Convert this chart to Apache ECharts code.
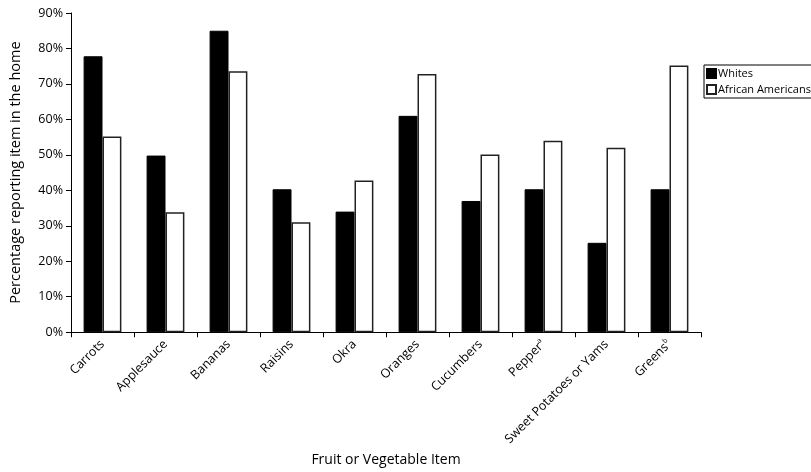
<!DOCTYPE html>
<html><head><meta charset="utf-8">
<script src="https://cdn.jsdelivr.net/npm/echarts@6/dist/echarts.min.js"></script>
<style>html,body{margin:0;padding:0;background:#fff}#c{width:811px;height:472px}</style>
</head><body><div id="c"></div>
<script>
var categories = ['Carrots','Applesauce','Bananas','Raisins','Okra','Oranges','Cucumbers','Pepper{sup|a}','Sweet Potatoes or Yams','Greens{sup|b}'];
var whites = [77.8, 49.8, 85.0, 40.3, 34.0, 61.0, 37.0, 40.3, 25.2, 40.3];
var africanAmericans = [55.2, 33.8, 73.6, 31.0, 42.8, 72.8, 50.1, 54.0, 52.0, 75.2];
var yTicks = [0,10,20,30,40,50,60,70,80,90];

var FONT = '"Open Sans", "Liberation Sans", sans-serif';
var chart = echarts.init(document.getElementById('c'));
chart.setOption({
  animation: false,
  backgroundColor: '#fff',
  textStyle: {fontFamily: FONT, color: '#000'},
  grid: {left: 68, right: 110, top: 13, bottom: 139},
  legend: {
    orient: 'vertical', left: 704, top: 65,
    itemWidth: 9, itemHeight: 9, itemGap: 5,
    borderColor: '#000', borderWidth: 1, borderRadius: 0,
    padding: [3, 3, 3, 2],
    textStyle: {fontFamily: FONT, fontSize: 11, color: '#000', padding: [0,0,0,-3]},
    data: [{name:'Whites', icon:'rect'}, {name:'African Americans', icon:'rect'}]
  },
  xAxis: {
    type: 'category', data: categories,
    name: 'Fruit or Vegetable Item', nameLocation: 'middle', nameGap: 116,
    nameTextStyle: {fontFamily: FONT, fontSize: 14, color: '#000'},
    axisLine: {lineStyle: {color: '#000', width: 1}},
    axisTick: {show: true, length: 5, lineStyle: {color: '#000'}},
    axisLabel: {
      rotate: 45, interval: 0, fontSize: 12.5, color: '#000', fontFamily: FONT, margin: 10,
      rich: {sup: {fontSize: 7, verticalAlign: 'top', padding: [0,0,8,0], fontFamily: FONT, color:'#000'}}
    },
    splitLine: {show: false}
  },
  yAxis: {
    type: 'value', min: 0, max: 90, interval: 10,
    name: 'Percentage reporting item in the home', nameLocation: 'middle', nameGap: 48,
    nameTextStyle: {fontFamily: FONT, fontSize: 14.5, color: '#000'},
    axisLine: {show: true, lineStyle: {color: '#000', width: 1}},
    axisTick: {show: true, length: 5, lineStyle: {color: '#000'}},
    axisLabel: {fontSize: 12.5, color: '#000', fontFamily: FONT, margin: 8,
      formatter: function(v){ return yTicks.indexOf(v) >= 0 ? v + '%' : ''; }},
    splitLine: {show: false}
  },
  series: [
    {name: 'Whites', type: 'bar', data: whites, barGap: '0%', barCategoryGap: '40%',
     itemStyle: {color: '#000', borderColor: '#000', borderWidth: 1}},
    {name: 'African Americans', type: 'bar', data: africanAmericans, barGap: '0%', barCategoryGap: '40%',
     itemStyle: {color: '#fff', borderColor: '#222', borderWidth: 1.5}}
  ]
});
</script></body></html>
